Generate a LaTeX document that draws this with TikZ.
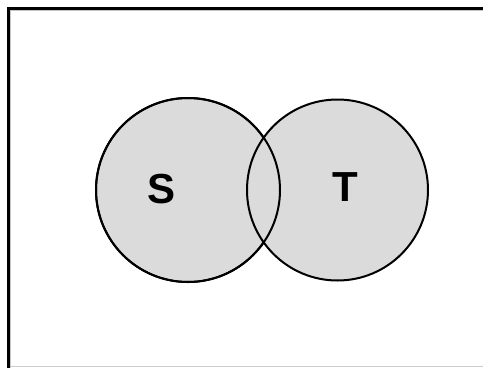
\documentclass[tikz,border=0pt]{standalone}
\usepackage{fontspec}
\setmainfont{Liberation Sans}
\begin{document}
\begin{tikzpicture}[x=1pt,y=-1pt,
  setcircle/.style={draw=black,line width=2pt,fill=gray!28},
  setlabel/.style={font=\bfseries\fontsize{42}{42}\selectfont}]
\useasboundingbox (0,0) rectangle (483,368);
\fill[white] (0,0) rectangle (483,368);
% frame
\draw[gray!45,line width=1pt] (10.5,368) -- (10.5,10.5) -- (483,10.5);
\draw[gray!40,line width=1pt] (10.5,366.8) -- (483,366.8);
\draw[black,line width=3pt] (8.5,368) -- (8.5,8.5) -- (483,8.5);
% circles
\path[setcircle] (188,190) circle (92);
\path[setcircle] (337.5,190) circle (90.5);
\draw[line width=2pt] (188,190) circle (92);
\node[setlabel] (s) at (162,189) {S};
\node[setlabel] (t) at (345,187) {T};
\end{tikzpicture}
\end{document}
